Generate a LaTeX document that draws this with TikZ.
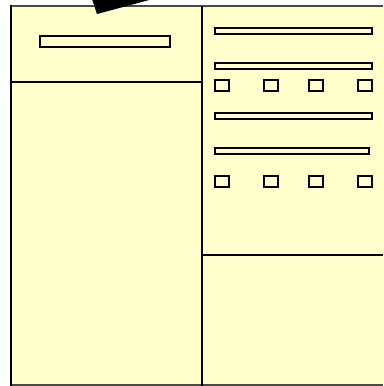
\documentclass[tikz,border=0pt]{standalone}
\usepackage{xcolor}
\usepackage{tikz}
\definecolor{paper}{HTML}{FFFFCC}
\definecolor{rim}{HTML}{4A4A40}

\begin{document}
\begin{tikzpicture}[x=0.02cm, y=-0.02cm,
    bar/.style={draw=black, line width=1.1pt, fill=paper},
    tick/.style={draw=black, line width=1.1pt, fill=paper},
    wall/.style={black, line width=1.3pt}]
    \useasboundingbox (0,0) rectangle (383,386);

    % Sheet
    \fill[paper] (10,6) rectangle (383,385);
    \draw[rim, line width=1.1pt] (383,6) -- (10,6);
    \draw[rim, line width=1.1pt] (10,385) -- (383,385);
    \draw[black, line width=1.7pt] (11,5) -- (11,386);

    % Dividers
    \draw[wall] (202,6) -- (202,386);
    \draw[wall] (10,82) -- (202,82);
    \draw[wall] (202,255) -- (383,255);

    % Left header bar
    \draw[bar] (40,36) rectangle (170,47);

    % Right bars
    \draw[bar] (215,28) rectangle (372,34);
    \draw[bar] (215,63) rectangle (372,69);
    \draw[bar] (215,113) rectangle (372,119);
    \draw[bar] (215,148) rectangle (369,154);

    % Check boxes
    \foreach \x in {215,264,309,358} {
        \draw[tick] (\x,80) rectangle ++(14,11);
        \draw[tick] (\x,176) rectangle ++(14,11);
    }

    % Pointer wedge
    \fill[black] (92,-1) -- (97,14) -- (153,-1) -- cycle;
\end{tikzpicture}
\end{document}
